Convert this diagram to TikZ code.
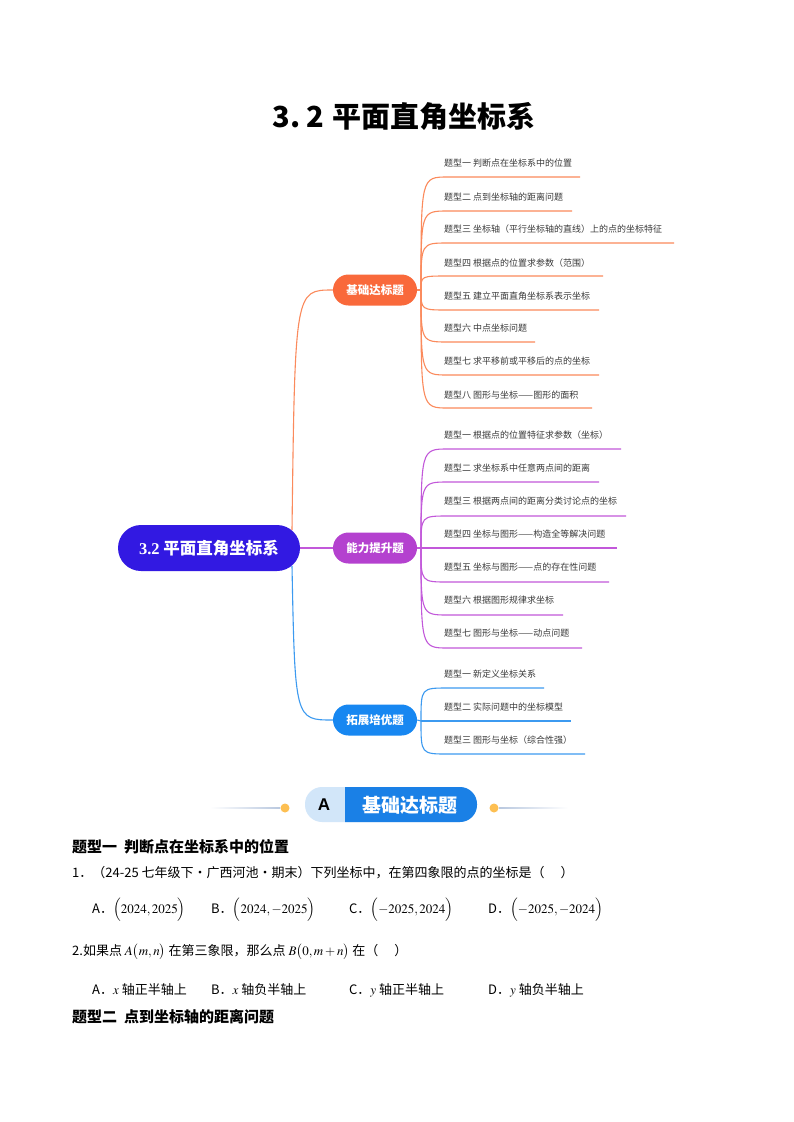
\documentclass[tikz,border=0pt]{standalone}
\usepackage{mathptmx}
\usepackage[no-math]{fontspec}
\setmainfont{Noto Sans CJK SC}
\newfontfamily\tms{Liberation Serif}
\newfontfamily\arl{Liberation Sans}
\usetikzlibrary{calc}
\definecolor{rootc}{HTML}{3219E2}
\definecolor{onode}{HTML}{F9693B}
\definecolor{oline}{HTML}{FB8A5C}
\definecolor{pnode}{HTML}{B441CF}
\definecolor{pline}{HTML}{C258DA}
\definecolor{bnode}{HTML}{1787F1}
\definecolor{bline}{HTML}{3C9AF0}
\definecolor{leafgray}{HTML}{3A3A3A}
\definecolor{bannerlb}{HTML}{D2E6F9}
\definecolor{bannerb}{HTML}{1A80E6}
\definecolor{dotc}{HTML}{FDBF52}
\definecolor{fadel}{HTML}{B9C8DF}
\pgfdeclarelayer{bg}
\pgfsetlayers{bg,main}
\tikzset{
  rootbox/.style={fill=rootc, rounded corners=23pt, minimum width=182pt, minimum height=46pt, inner sep=0, text=white, font=\bfseries\fontsize{16.5}{18}\selectfont},
  lonebox/.style={rounded corners=15.5pt, minimum width=84pt, minimum height=31pt, inner sep=0, text=white, font=\bfseries\fontsize{11.5}{13}\selectfont},
  leaf/.style={anchor=west, inner sep=0, text=leafgray, font=\fontsize{9}{10}\selectfont},
  conn/.style={line width=1.1pt},
  body/.style={anchor=west, inner sep=0, font=\fontsize{13}{15}\selectfont},
  head/.style={anchor=west, inner sep=0, font=\bfseries\fontsize{15}{17}\selectfont},
}
\begin{document}
\begin{tikzpicture}[x=1pt,y=-1pt]
\useasboundingbox (0,0) rectangle (793,1122);
\begin{pgfonlayer}{bg}
\fill[white] (0,0) rectangle (793,1122);
\end{pgfonlayer}

% title
\node[inner sep=0, font=\bfseries\fontsize{29}{31}\selectfont] (title) at (404,116) {3.\hspace{6pt}2\hspace{8pt}平面直角坐标系};

% mind map nodes
\node[rootbox] (root) at (209,548) {{\tms\bfseries 3.2} 平面直角坐标系};
\node[lonebox, fill=onode] (n1) at (375,290) {基础达标题};
\node[lonebox, fill=pnode] (n2) at (375,548) {能力提升题};
\node[lonebox, fill=bnode] (n3) at (375,720) {拓展培优题};

\coordinate (rs1) at (292,530);
\coordinate (rs3) at (292,566);
\coordinate (otr) at (421,290);
\coordinate (ptr) at (421,548);
\coordinate (btr) at (421,721);

\begin{pgfonlayer}{bg}
\draw[conn, oline] (rs1) .. controls ([xshift=3pt]rs1 |- n1.west) .. (n1.west);
\draw[conn, pline] (root.east) -- (n2.west);
\draw[conn, bline] (rs3) .. controls ([xshift=3pt]rs3 |- n3.west) .. (n3.west);
\draw[conn, oline] (n1.east) -- (otr);
\draw[conn, pline] (n2.east) -- (ptr);
\draw[conn, bline] (n3.east) -- (btr);
\end{pgfonlayer}

\foreach \i/\ty/\uy/\ex/\tx in {
1/163/177/580/题型一 判断点在坐标系中的位置,
2/197/211/572/题型二 点到坐标轴的距离问题,
3/229/243/674/题型三 坐标轴（平行坐标轴的直线）上的点的坐标特征,
4/263/276/603/题型四 根据点的位置求参数（范围）,
5/296/310/599/题型五 建立平面直角坐标系表示坐标,
6/328/342/535/题型六 中点坐标问题,
7/361/375/599/题型七 求平移前或平移后的点的坐标,
8/395/408/592/题型八 图形与坐标——图形的面积}{
  \node[leaf] (o\i) at (444,\ty) {\tx};
  \coordinate (o\i e) at (\ex,\uy);
  \begin{pgfonlayer}{bg}
  \draw[conn, oline] (otr) .. controls (otr |- o\i e) .. ([xshift=27pt]otr |- o\i e) -- (o\i e);
  \end{pgfonlayer}
}

\foreach \i/\ty/\uy/\ex/\tx in {
1/435/449/621/题型一 根据点的位置特征求参数（坐标）,
2/468/482/599/题型二 求坐标系中任意两点间的距离,
3/501/516/626/题型三 根据两点间的距离分类讨论点的坐标,
4/534/548/617/题型四 坐标与图形——构造全等解决问题,
5/567/582/609/题型五 坐标与图形——点的存在性问题,
6/600/615/563/题型六 根据图形规律求坐标,
7/633/648/582/题型七 图形与坐标——动点问题}{
  \node[leaf] (p\i) at (444,\ty) {\tx};
  \coordinate (p\i e) at (\ex,\uy);
  \begin{pgfonlayer}{bg}
  \draw[conn, pline] (ptr) .. controls (ptr |- p\i e) .. ([xshift=27pt]ptr |- p\i e) -- (p\i e);
  \end{pgfonlayer}
}

\foreach \i/\ty/\uy/\ex/\tx in {
1/674/688/544/题型一 新定义坐标关系,
2/707/721/571/题型二 实际问题中的坐标模型,
3/740/754/585/题型三 图形与坐标（综合性强）}{
  \node[leaf] (b\i) at (444,\ty) {\tx};
  \coordinate (b\i e) at (\ex,\uy);
  \begin{pgfonlayer}{bg}
  \draw[conn, bline] (btr) .. controls (btr |- b\i e) .. ([xshift=27pt]btr |- b\i e) -- (b\i e);
  \end{pgfonlayer}
}

% banner
\shade[left color=white, right color=fadel] (210,807.4) rectangle (280,808.6);
\shade[left color=fadel, right color=white] (499,807.4) rectangle (568,808.6);
\fill[dotc] (285,808) circle (4.5);
\fill[dotc] (494,808) circle (4.5);
\fill[bannerlb, rounded corners=17pt] (305,787) rectangle (477,822);
\begin{scope}
\clip (345,780) rectangle (480,830);
\fill[bannerb, rounded corners=17pt] (320,787) rectangle (477,822);
\end{scope}
\node[inner sep=0, font=\arl\bfseries\fontsize{17}{18}\selectfont] (bA) at (324,805) {A};
\node[inner sep=0, text=white, font=\bfseries\fontsize{19}{20}\selectfont] (bT) at (410,805) {基础达标题};

% questions
\node[head] (h1) at (72,847) {题型一\ \ 判断点在坐标系中的位置};
\node[body] (q1) at (72,873) {1．（24-25 七年级下·广西河池·期末）下列坐标中，在第四象限的点的坐标是（\quad\ ）};
\node[body] (q1a) at (92,910) {A．$\Bigl(2024,2025\Bigr)$};
\node[body] (q1b) at (211,910) {B．$\Bigl(2024,-2025\Bigr)$};
\node[body] (q1c) at (349,910) {C．$\Bigl(-2025,2024\Bigr)$};
\node[body] (q1d) at (488,910) {D．$\Bigl(-2025,-2024\Bigr)$};
\node[body] (q2) at (72,952) {2.如果点 $A\bigl(m,n\bigr)$ 在第三象限，那么点 $B\bigl(0,m+n\bigr)$ 在（\quad\ ）};
\node[body] (q2a) at (92,990) {A．$x$ 轴正半轴上};
\node[body] (q2b) at (211,990) {B．$x$ 轴负半轴上};
\node[body] (q2c) at (349,990) {C．$y$ 轴正半轴上};
\node[body] (q2d) at (488,990) {D．$y$ 轴负半轴上};
\node[head] (h2) at (72,1017) {题型二\ \ 点到坐标轴的距离问题};
\end{tikzpicture}
\end{document}
